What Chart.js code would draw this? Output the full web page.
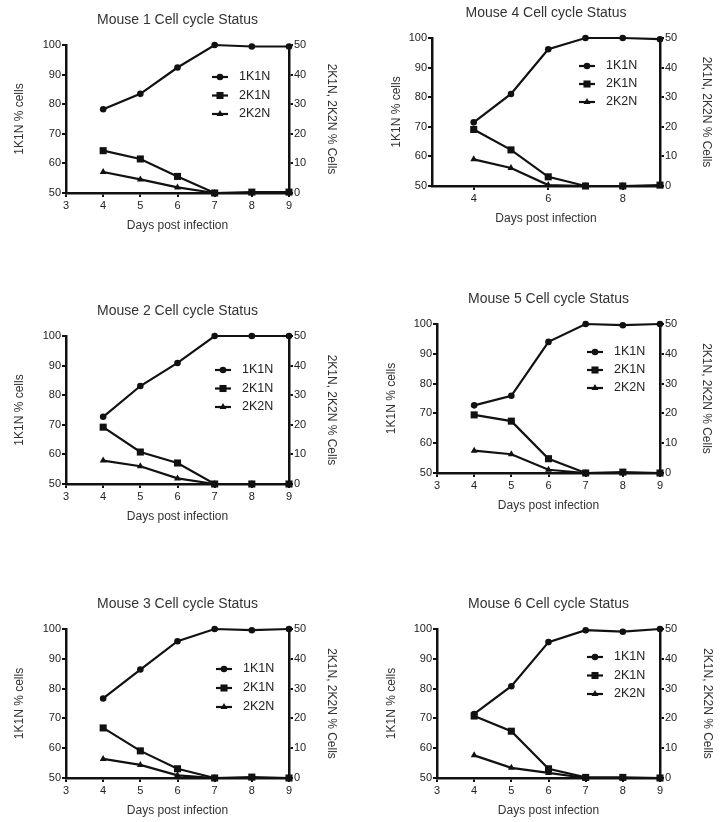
<!DOCTYPE html>
<html>
<head>
<meta charset="utf-8">
<script src="https://cdn.jsdelivr.net/npm/chart.js@4.4.1/dist/chart.umd.min.js"></script>
<style>
html, body { margin: 0; padding: 0; background: #fff; overflow: hidden; }
body { width: 727px; height: 822px; position: relative; }
canvas { position: absolute; }
</style>
</head>
<body>
<canvas id="c1"></canvas>
<canvas id="c2"></canvas>
<canvas id="c3"></canvas>
<canvas id="c4"></canvas>
<canvas id="c5"></canvas>
<canvas id="c6"></canvas>
<script>
// Data
const days = [4, 5, 6, 7, 8, 9];
const seriesNames = ["1K1N", "2K1N", "2K2N"];
const xTicks = [3, 4, 5, 6, 7, 8, 9];
const xTicksMouse4 = [4, 6, 8];
const leftTicks = [50, 60, 70, 80, 90, 100];
const rightTicks = [0, 10, 20, 30, 40, 50];

const mouse1_1K1N = [78.3, 83.5, 92.4, 100, 99.5, 99.5];
const mouse1_2K1N = [14.3, 11.5, 5.6, 0, 0.3, 0.3];
const mouse1_2K2N = [7.1, 4.6, 1.9, 0, 0, 0];

const mouse2_1K1N = [72.7, 83.1, 90.9, 100, 100, 100];
const mouse2_2K1N = [19.2, 10.8, 7.1, 0, 0, 0];
const mouse2_2K2N = [7.9, 6.0, 1.9, 0, 0, 0];

const mouse3_1K1N = [76.7, 86.4, 95.9, 100, 99.6, 100];
const mouse3_2K1N = [16.8, 9.1, 3.1, 0, 0.3, 0];
const mouse3_2K2N = [6.4, 4.4, 0.9, 0, 0, 0];

const mouse4_1K1N = [71.5, 81.1, 96.2, 100, 100, 99.6];
const mouse4_2K1N = [19.1, 12.2, 3.1, 0, 0, 0.3];
const mouse4_2K2N = [9.0, 6.1, 0.3, 0, 0, 0];

const mouse5_1K1N = [72.7, 75.9, 94.0, 100, 99.6, 100];
const mouse5_2K1N = [19.5, 17.4, 4.8, 0, 0.3, 0];
const mouse5_2K2N = [7.5, 6.3, 1.1, 0, 0, 0];

const mouse6_1K1N = [71.5, 80.8, 95.6, 99.6, 99.1, 100];
const mouse6_2K1N = [20.8, 15.7, 3.1, 0.2, 0.2, 0];
const mouse6_2K2N = [7.6, 3.4, 1.7, 0, 0, 0];

// Layout (plot area in page pixels, title gaps, legend offset)
const panels = [
    {id: "c1", title: "Mouse 1 Cell cycle Status", series: [mouse1_1K1N, mouse1_2K1N, mouse1_2K2N],
        xMin: 3, ticks: xTicks, area: [66, 45, 289, 193], leftGap: 46, rightGap: 42, legend: [146, 32, 18.5]},
    {id: "c2", title: "Mouse 2 Cell cycle Status", series: [mouse2_1K1N, mouse2_2K1N, mouse2_2K2N],
        xMin: 3, ticks: xTicks, area: [66, 336, 289, 484], leftGap: 46, rightGap: 42, legend: [149, 34, 18.5]},
    {id: "c3", title: "Mouse 3 Cell cycle Status", series: [mouse3_1K1N, mouse3_2K1N, mouse3_2K2N],
        xMin: 3, ticks: xTicks, area: [66, 629, 289, 778], leftGap: 46, rightGap: 42, legend: [150, 40, 19]},
    {id: "c4", title: "Mouse 4 Cell cycle Status", series: [mouse4_1K1N, mouse4_2K1N, mouse4_2K2N],
        xMin: 2.88, ticks: xTicksMouse4, area: [432, 38, 660, 186], leftGap: 35, rightGap: 46, legend: [147, 28, 18]},
    {id: "c5", title: "Mouse 5 Cell cycle Status", series: [mouse5_1K1N, mouse5_2K1N, mouse5_2K2N],
        xMin: 3, ticks: xTicks, area: [437, 324, 660, 473], leftGap: 45, rightGap: 46, legend: [150, 28, 18]},
    {id: "c6", title: "Mouse 6 Cell cycle Status", series: [mouse6_1K1N, mouse6_2K1N, mouse6_2K2N],
        xMin: 3, ticks: xTicks, area: [437, 629, 660, 778], leftGap: 45, rightGap: 47, legend: [150, 28, 18.5]}
];

const SIDE = 66, TOP = 45, BOTTOM = 44;
const INK = "#111";
const pointStyles = ["circle", "rect", "triangle"];
const pointRadii = [3.3, 5, 4];

Chart.defaults.font.family = "'Liberation Sans', Arial, sans-serif";
Chart.defaults.color = "#222";

// Marker
const drawMarker = (ctx, style, r, x, y) => {
    ctx.beginPath();
    if (style === "circle") {
        ctx.arc(x, y, r, 0, Math.PI * 2);
    } else if (style === "rect") {
        let s = r / Math.SQRT2;
        ctx.rect(x - s, y - s, 2 * s, 2 * s);
    } else {
        ctx.moveTo(x, y - r);
        ctx.lineTo(x + r * 0.866, y + r * 0.5);
        ctx.lineTo(x - r * 0.866, y + r * 0.5);
        ctx.closePath();
    }
    ctx.fill();
};

const insideLegend = {
    id: "insideLegend",
    afterDatasetsDraw(chart, args, opts) {
        let {ctx, chartArea} = chart;
        ctx.save();
        chart.data.datasets.forEach((ds, i) => {
            let x = chartArea.left + opts.x;
            let y = chartArea.top + opts.y + i * opts.gap;
            ctx.strokeStyle = INK;
            ctx.fillStyle = INK;
            ctx.lineWidth = 2.2;
            ctx.beginPath();
            ctx.moveTo(x, y);
            ctx.lineTo(x + 16, y);
            ctx.stroke();
            drawMarker(ctx, ds.pointStyle, ds.pointRadius, x + 8, y);
            ctx.fillStyle = "#222";
            ctx.font = "12.5px 'Liberation Sans', Arial, sans-serif";
            ctx.textBaseline = "middle";
            ctx.textAlign = "left";
            ctx.fillText(ds.label, x + 27, y);
        });
        ctx.restore();
    }
};

const axisStyle = (fixTicks) => ({
    grid: {display: true, drawOnChartArea: false, drawTicks: true, tickLength: 4, color: INK, lineWidth: 2},
    border: {display: true, color: INK, width: 2.5},
    ticks: {padding: 1, font: {size: 11}, color: "#222", autoSkip: false, maxRotation: 0},
    afterBuildTicks: s => { s.ticks = fixTicks.map(v => ({value: v})); }
});

panels.forEach(p => {
    let [l, t, r, b] = p.area;
    let canvas = document.getElementById(p.id);
    canvas.width = r - l + 2 * SIDE;
    canvas.height = b - t + TOP + BOTTOM;
    canvas.style.left = (l - SIDE) + "px";
    canvas.style.top = (t - TOP) + "px";

    let x = axisStyle(p.ticks);
    x.type = "linear";
    x.min = p.xMin;
    x.max = 9;
    x.ticks.padding = 2;
    x.afterFit = s => { s.height = BOTTOM; };
    x.title = {display: true, text: "Days post infection", color: "#333", font: {size: 12}, padding: {top: 0, bottom: 3.8}};

    let y = axisStyle(leftTicks);
    y.position = "left";
    y.min = 50;
    y.max = 100;
    y.afterFit = s => { s.width = SIDE; };
    y.title = {display: true, text: "1K1N % cells", color: "#333", font: {size: 12}, padding: {top: SIDE - p.leftGap - 7.2, bottom: 0}};

    let y1 = axisStyle(rightTicks);
    y1.position = "right";
    y1.min = 0;
    y1.max = 50;
    y1.afterFit = s => { s.width = SIDE; };
    y1.title = {display: true, text: "2K1N, 2K2N % Cells", color: "#333", font: {size: 12}, padding: {top: SIDE - p.rightGap - 7.2, bottom: 0}};

    new Chart(canvas, {
        type: "line",
        data: {
            datasets: p.series.map((values, i) => ({
                label: seriesNames[i],
                data: days.map((d, j) => ({x: d, y: values[j]})),
                yAxisID: i === 0 ? "y" : "y1",
                borderColor: INK,
                backgroundColor: INK,
                borderWidth: 2.2,
                pointStyle: pointStyles[i],
                pointRadius: pointRadii[i],
                pointBorderWidth: 0,
                tension: 0,
                clip: false
            }))
        },
        options: {
            responsive: false,
            animation: false,
            layout: {padding: 0, autoPadding: false},
            plugins: {
                legend: {display: false},
                tooltip: {enabled: false},
                title: {display: true, text: p.title, color: "#333", font: {size: 14, weight: "normal"}, padding: {top: 12.1, bottom: 16.1}},
                insideLegend: {x: p.legend[0], y: p.legend[1], gap: p.legend[2]}
            },
            scales: {x: x, y: y, y1: y1}
        },
        plugins: [insideLegend]
    });
});
</script>
</body>
</html>
